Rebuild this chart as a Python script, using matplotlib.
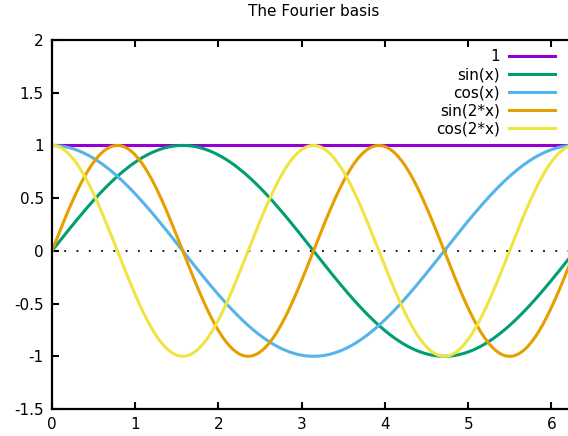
import numpy as np
import matplotlib
matplotlib.use("Agg")
import matplotlib.pyplot as plt

labels = ["1", "sin(x)", "cos(x)", "sin(2*x)", "cos(2*x)"]
colors = ["#9400D3", "#009E73", "#56B4E9", "#E69F00", "#F0E442"]
funcs = [lambda x: np.ones_like(x), np.sin, np.cos,
         lambda x: np.sin(2 * x), lambda x: np.cos(2 * x)]
x_ticks = [0, 1, 2, 3, 4, 5, 6]
y_ticks = [-1.5, -1, -0.5, 0, 0.5, 1, 1.5, 2]
y_tick_labels = ["-1.5", "-1", "-0.5", "0", "0.5", "1", "1.5", "2"]

x = np.linspace(0, 2 * np.pi, 600)

fig = plt.figure(figsize=(5.68, 4.36), dpi=100)
ax = fig.add_axes([52 / 568, 27 / 436, 523 / 568, 369 / 436])

ax.axhline(0, color="black", lw=1.3, dashes=(1, 5.8), zorder=1)
for lab, col, f in zip(labels, colors, funcs):
    ax.plot(x, f(x), color=col, lw=2.2, label=lab, zorder=2)

ax.set_xlim(0, 2 * np.pi)
ax.set_ylim(-1.5, 2)
ax.set_xticks(x_ticks)
ax.set_xticklabels([str(t) for t in x_ticks])
ax.set_yticks(y_ticks)
ax.set_yticklabels(y_tick_labels)
ax.tick_params(direction="in", length=5, width=1.5, top=True, right=True,
               labelsize=11, pad=6)
for s in ax.spines.values():
    s.set_linewidth(1.6)

ax.set_title("The Fourier basis", fontsize=11, pad=17)

leg = ax.legend(loc="upper right", bbox_to_anchor=(0.979, 1.0), frameon=False,
                markerfirst=False, fontsize=11, handlelength=3.0,
                handletextpad=0.6, labelspacing=0.2, borderaxespad=0.2)
for t in leg.get_texts():
    t.set_ha("right")

fig.savefig("out.png", dpi=100)
